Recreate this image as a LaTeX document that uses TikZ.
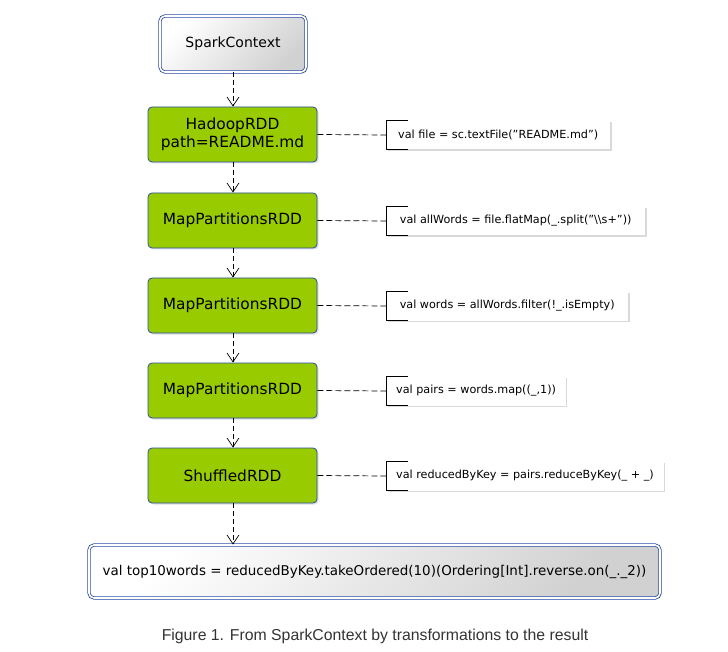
\documentclass[tikz,border=0pt]{standalone}
\usepackage{fontspec}
\setmainfont{DejaVu Sans}
\newfontfamily\capfont{Liberation Sans}
\usetikzlibrary{arrows.meta,shadows,calc}
\definecolor{rddgreen}{HTML}{99CC00}
\definecolor{edgeblue}{HTML}{2A4DA8}
\definecolor{captxt}{HTML}{333333}
\tikzset{
  flowarrow/.style={draw=black, line width=0.7pt, dash pattern=on 5pt off 3pt, -{Straight Barb[length=9pt,width=12pt]}},
  notelink/.style={draw=black, line width=0.7pt, dash pattern=on 6pt off 3pt},
  rddbox/.style={draw=edgeblue, line width=0.8pt, fill=rddgreen, rounded corners=4pt, minimum width=169pt, minimum height=55pt, align=center, font=\fontsize{15.4}{18}\selectfont, inner sep=0pt, drop shadow={shadow xshift=1.5pt, shadow yshift=-1.5pt, opacity=0.25}},
  ctxbox/.style={draw=edgeblue, double=white, double distance=1.6pt, line width=0.8pt, rounded corners=5pt, top color=white, bottom color=black!18, shading angle=45, inner sep=0pt, drop shadow={shadow xshift=1.5pt, shadow yshift=-1.5pt, opacity=0.25}},
  notebox/.style={fill=white, draw=none, minimum height=29pt, inner sep=0pt, inner xsep=10pt, anchor=west, font=\fontsize{11.2}{13}\selectfont, drop shadow={shadow xshift=1.5pt, shadow yshift=-1.5pt, opacity=0.3}},
  bracket/.style={draw=black, line width=0.8pt}
}
\begin{document}
\begin{tikzpicture}[x=1pt,y=-1pt]
\useasboundingbox (0,0) rectangle (728,652);
% main column
\node[ctxbox, minimum width=146pt, minimum height=56pt, font=\fontsize{14}{16}\selectfont] (ctx) at (233,44) {SparkContext};
\node[rddbox] (hadoop) at (232.5,134.5) {HadoopRDD\\path=README.md};
\node[rddbox] (mp1) at (232.5,220.5) {MapPartitionsRDD};
\node[rddbox] (mp2) at (232.5,305.5) {MapPartitionsRDD};
\node[rddbox] (mp3) at (232.5,390.5) {MapPartitionsRDD};
\node[rddbox] (shuf) at (232.5,475.5) {ShuffledRDD};
\node[ctxbox, minimum width=571pt, minimum height=53pt, font=\fontsize{13.45}{15}\selectfont] (top) at (374.5,571.5) {val top10words = reducedByKey.takeOrdered(10)(Ordering[Int].reverse.on(\_.\_2))};
% flow arrows
\draw[flowarrow] (ctx.south -| 233,0) -- (hadoop.north -| 233,0);
\draw[flowarrow] (hadoop.south -| 233,0) -- (mp1.north -| 233,0);
\draw[flowarrow] (mp1.south -| 233,0) -- (mp2.north -| 233,0);
\draw[flowarrow] (mp2.south -| 233,0) -- (mp3.north -| 233,0);
\draw[flowarrow] (mp3.south -| 233,0) -- (shuf.north -| 233,0);
\draw[flowarrow] (shuf.south -| 233,0) -- (top.north -| 233,0);
% notes
\node[notebox, minimum width=224pt] (n1) at (386,135) {val file = sc.textFile("README.md")};
\node[notebox, minimum width=259pt] (n2) at (386,221) {val allWords = file.flatMap(\_.split("\textbackslash\textbackslash s+"))};
\node[notebox, minimum width=242pt] (n3) at (386,306) {val words = allWords.filter(!\_.isEmpty)};
\node[notebox, minimum width=159pt] (n4) at (386,391) {val pairs = words.map((\_,1))};
\node[notebox, minimum width=274pt] (n5) at (386,476) {val reducedByKey = pairs.reduceByKey(\_ + \_)};
\foreach \n in {n1,n2,n3,n4,n5}{
  \draw[bracket] ($(\n.north west)+(22,0)$) -- (\n.north west) -- (\n.south west) -- ($(\n.south west)+(22,0)$);
}
\draw[notelink] (hadoop.east) -- (n1.west);
\draw[notelink] (mp1.east) -- (n2.west);
\draw[notelink] (mp2.east) -- (n3.west);
\draw[notelink] (mp3.east) -- (n4.west);
\draw[notelink] (shuf.east) -- (n5.west);
% caption
\node[font=\capfont\fontsize{15.8}{18}\selectfont, text=captxt] (cap) at (375,636) {Figure 1. From SparkContext by transformations to the result};
\end{tikzpicture}
\end{document}
